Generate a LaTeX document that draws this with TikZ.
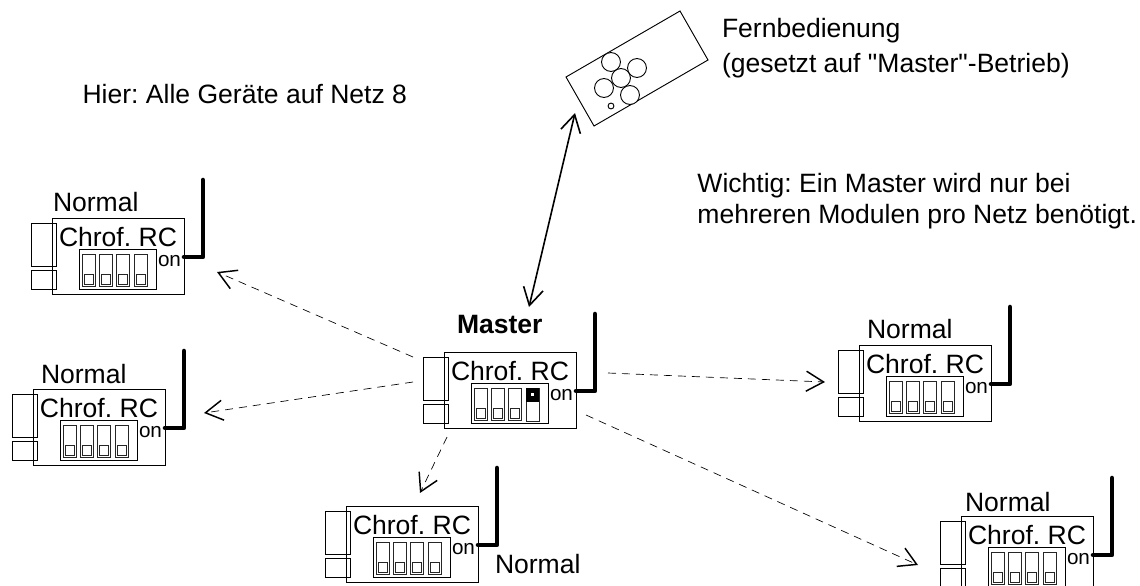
\documentclass[tikz,border=0pt]{standalone}
\usepackage{fontspec}
\setmainfont{Liberation Sans}
\newfontfamily\plainf{Liberation Sans}
\usetikzlibrary{arrows.meta}
\newcommand\bigfont{\fontsize{19.9pt}{23pt}\selectfont}
\newcommand\onfont{\fontsize{15.5pt}{18pt}\selectfont}
\tikzset{
  x=0.75pt,y=-0.75pt,
  line/.style={draw=black,line width=0.7pt},
  thin line/.style={draw=black!85,line width=0.6pt},
  lbl/.style={anchor=base west,inner sep=0pt,outer sep=0pt,text=black},
  dev/.style={line,minimum width=99pt,minimum height=57pt,anchor=north west,inner sep=0pt,outer sep=0pt},
  ant/.style={line width=3.4pt,line cap=round,line join=round},
  signal/.style={dash pattern=on 6pt off 4.5pt,line width=0.5pt,-{Straight Barb[length=13pt,width=15pt,line width=1.1pt]}},
  both/.style={line width=1.2pt,{Straight Barb[length=13pt,width=15pt,line width=1.2pt]}-{Straight Barb[length=13pt,width=15pt,line width=1.2pt]}},
}
% name, x offset, y offset, fourth switch
\newcommand\device[4]{%
 \begin{scope}[shift={(#2,#3)}]
  \node[dev] (#1) at (52,218) {};
  \draw[line] (31,223) rectangle (56,266);
  \draw[line] (31,270) rectangle (56,289);
  \node[lbl] (#1t) at (59,246) {\bigfont Chrof. RC};
  \node[lbl] (#1o) at (158,266) {\onfont on};
  \draw[line] (79,249) rectangle (156,289);
  \foreach \sx in {82,99,116}{
    \draw[thin line] (\sx,254) rectangle ++(13,32);
    \draw[thin line] (\sx+2,274) rectangle ++(9,10);
  }
  #4
  \draw[ant] (184,257) -- (203,257) -- (203,180);
 \end{scope}}
\newcommand\swoff{\draw[thin line] (134,254) rectangle ++(13,32); \draw[thin line] (136,274) rectangle ++(9,10);}
\newcommand\swon{\draw[thin line] (134,254) rectangle ++(13,33); \fill[black] (134,254) rectangle ++(13,14); \fill[white] (139,259) rectangle ++(3,3);}
\begin{document}
\frenchspacing
\begin{tikzpicture}
\useasboundingbox (0,0) rectangle (1140,586);
\clip (0,0) rectangle (1140,586);
\device{na}{0}{0}{\swoff}
\device{nb}{-19}{171}{\swoff}
\device{nc}{294}{288}{\swoff}
\device{nd}{807}{127}{\swoff}
\device{ne}{909}{298}{\swoff}
\device{ma}{392}{134}{\swon}
% labels
\node[lbl] (la) at (53,211) {\bigfont Normal};
\node[lbl] (lb) at (41,383) {\bigfont Normal};
\node[lbl] (lc) at (495,573) {\bigfont Normal};
\node[lbl] (ld) at (867,338) {\bigfont Normal};
\node[lbl] (le) at (965,511) {\bigfont Normal};
\node[lbl] (lm) at (457,333) {\bigfont\bfseries Master};
\node[lbl,anchor=base east] (t1) at (407,103) {\bigfont Hier: Alle Geräte auf Netz 8};
\node[lbl] (t2) at (722,37) {\bigfont Fernbedienung};
\node[lbl] (t3) at (722,72) {\bigfont\plainf (gesetzt auf "Master"-Betrieb)};
\node[lbl,anchor=base east] (t5) at (1137,223) {\bigfont mehreren Modulen pro Netz benötigt.};
\path (t5.base west) ++(0,-31) coordinate (t4a);
\node[lbl] (t4) at (t4a) {\bigfont Wichtig: Ein Master wird nur bei};
% remote
\coordinate (r1) at (680,11);
\coordinate (r2) at (708,60);
\coordinate (r3) at (594,126);
\coordinate (r4) at (566,77);
\draw[line] (r1) -- (r2) -- (r3) -- (r4) -- cycle;
\foreach \cx/\cy in {611/62,637/68,604/88,630/95}{\draw[line,fill=white] (\cx,\cy) circle (7.1pt);}
\draw[line] (621,78) circle (7.1pt);
\draw[line] (611,106) circle (2.2pt);
% connectors
\coordinate (rc) at (575,113);
\coordinate (mt) at (529,307);
\draw[both] (rc) -- (mt);
\coordinate (s1) at (413,357); \coordinate (e1) at (217,272);
\coordinate (s2) at (413,382); \coordinate (e2) at (204,413);
\coordinate (s3) at (447,437); \coordinate (e3) at (420,493);
\coordinate (s4) at (608,373); \coordinate (e4) at (825,382);
\coordinate (s5) at (586,415); \coordinate (e5) at (918,565);
\draw[signal] (s1) -- (e1);
\draw[signal] (s2) -- (e2);
\draw[signal] (s3) -- (e3);
\draw[signal] (s4) -- (e4);
\draw[signal] (s5) -- (e5);
\end{tikzpicture}
\end{document}
